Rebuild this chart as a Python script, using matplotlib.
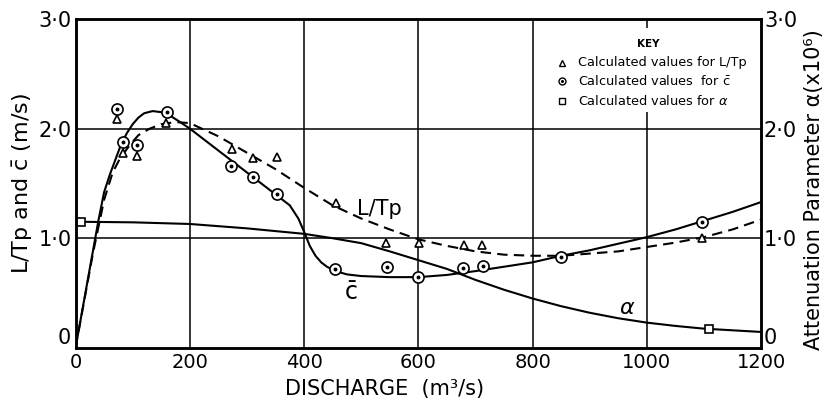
import matplotlib
matplotlib.use("Agg")
import matplotlib.pyplot as plt
from matplotlib.patches import Rectangle

plt.rcParams['font.family'] = ['DejaVu Sans']
plt.rcParams['mathtext.fontset'] = 'dejavusans'

# ---- data ----
# observed points
ltp_x = [73, 83, 108, 158, 274, 311, 353, 456, 543, 601, 680, 711, 1096]
ltp_y = [2.09, 1.78, 1.75, 2.05, 1.81, 1.73, 1.74, 1.32, 0.96, 0.96, 0.94, 0.94, 1.00]

cbar_x = [73, 83, 108, 160, 272, 311, 353, 454, 545, 599, 678, 713, 849, 1096]
cbar_y = [2.18, 1.88, 1.85, 2.15, 1.66, 1.56, 1.40, 0.72, 0.74, 0.65, 0.73, 0.75, 0.83, 1.15]

alpha_x = [10, 1108]
alpha_y = [1.15, 0.17]

# fitted curves
cbar_curve_x = [0, 20, 40, 50, 60, 70, 80, 90, 100, 110, 120, 135, 150, 165, 180, 200, 225,
                250, 275, 300, 325, 350, 375, 390, 400, 410, 420, 430, 440, 455, 475, 500,
                550, 600, 650, 700, 750, 800, 850, 900, 950, 1000, 1050, 1100, 1150, 1200]
cbar_curve_y = [0.0, 0.58, 1.16, 1.42, 1.58, 1.72, 1.86, 1.96, 2.04, 2.10, 2.14, 2.16, 2.15,
                2.12, 2.07, 2.00, 1.90, 1.80, 1.70, 1.60, 1.50, 1.40, 1.30, 1.18, 1.06, 0.93,
                0.84, 0.78, 0.74, 0.70, 0.67, 0.655, 0.645, 0.645, 0.665, 0.70, 0.74, 0.78,
                0.84, 0.89, 0.95, 1.01, 1.08, 1.16, 1.24, 1.33]

ltp_curve_x = [0, 30, 50, 65, 78, 95, 110, 130, 150, 175, 200, 250, 300, 350, 400, 450, 500,
               550, 600, 650, 700, 750, 800, 850, 900, 950, 1000, 1050, 1100, 1150, 1200]
ltp_curve_y = [0.0, 0.85, 1.35, 1.60, 1.73, 1.85, 1.94, 2.00, 2.04, 2.06, 2.05, 1.93, 1.78,
               1.63, 1.46, 1.30, 1.18, 1.08, 0.99, 0.93, 0.88, 0.85, 0.84, 0.84, 0.86, 0.88,
               0.92, 0.96, 1.01, 1.08, 1.17]

alpha_curve_x = [10, 100, 200, 300, 400, 450, 500, 550, 600, 650, 700, 750, 800, 850, 900,
                 950, 1000, 1050, 1100, 1150, 1200]
alpha_curve_y = [1.15, 1.145, 1.13, 1.09, 1.04, 1.00, 0.955, 0.88, 0.80, 0.72, 0.62, 0.53,
                 0.45, 0.38, 0.32, 0.27, 0.23, 0.20, 0.175, 0.16, 0.145]

x_ticks = [0, 200, 400, 600, 800, 1000, 1200]
y_ticks = [0, 1, 2, 3]
y_ticklabels = ['0', '1·0', '2·0', '3·0']

legend_labels = ['Calculated values for L/Tp',
                 r'Calculated values  for $\bar{\mathrm{c}}$',
                 'Calculated values for $\\alpha$']

# ---- figure ----
fig = plt.figure(figsize=(8.31, 4.04), dpi=100)
ax = fig.add_axes([0.0909, 0.139, 0.825, 0.814])
ax2 = ax.twinx()

ax.set_xlim(0, 1200)
ax.set_ylim(0, 3)
ax2.set_ylim(0, 3)

# grid
for gx in x_ticks[1:-1]:
    ax.axvline(gx, color='black', lw=1.1, zorder=1)
for gy in [1, 2]:
    ax.axhline(gy, color='black', lw=1.1, zorder=1)

# white legend area covering grid
ax.add_patch(Rectangle((840, 2.15), 355, 0.77, facecolor='white', edgecolor='none', zorder=2))

lw = 1.5
ax.plot(cbar_curve_x, cbar_curve_y, color='black', lw=lw, zorder=3)
ax.plot(ltp_curve_x, ltp_curve_y, color='black', lw=lw, ls=(0, (5, 3)), zorder=3)
ax.plot(alpha_curve_x, alpha_curve_y, color='black', lw=lw, zorder=3)

ax.plot(ltp_x, ltp_y, ls='none', marker='^', ms=6, mfc='white', mec='black', mew=1.2, zorder=4)
ax.plot(cbar_x, cbar_y, ls='none', marker='o', ms=8, mfc='white', mec='black', mew=1.2, zorder=4)
ax.plot(cbar_x, cbar_y, ls='none', marker='o', ms=1.8, mfc='black', mec='black', zorder=5)
ax.plot(alpha_x, alpha_y, ls='none', marker='s', ms=6, mfc='white', mec='black', mew=1.2, zorder=4)

# curve labels
ax.text(492, 1.27, 'L/Tp', fontsize=15, ha='left', va='center', zorder=6)
ax.text(482, 0.50, r'$\bar{\mathrm{c}}$', fontsize=17, ha='center', va='center', zorder=6)
ax.text(965, 0.36, r'$\alpha$', fontsize=16, ha='center', va='center', zorder=6)

# key
ax.text(1002, 2.77, 'KEY', fontsize=7.5, fontweight='bold', ha='center', va='center', zorder=6)
key_y = [2.60, 2.43, 2.25]
key_markers = ['^', 'o', 's']
for ky, km, kl in zip(key_y, key_markers, legend_labels):
    ax.plot([851], [ky], ls='none', marker=km, ms=5, mfc='white', mec='black', mew=1.0, zorder=6)
    if km == 'o':
        ax.plot([851], [ky], ls='none', marker='o', ms=1.2, mfc='black', mec='black', zorder=7)
    ax.text(880, ky, kl, fontsize=9.3, ha='left', va='center', zorder=6)

# axes styling
for a in (ax, ax2):
    for s in a.spines.values():
        s.set_linewidth(1.8)
ax.set_xticks(x_ticks)
ax.set_xticklabels([str(t) for t in x_ticks])
ax.set_yticks(y_ticks)
ax.set_yticklabels(y_ticklabels)
ax2.set_yticks(y_ticks)
ax2.set_yticklabels(y_ticklabels)
ax.tick_params(axis='x', length=0, labelsize=14, pad=4)
ax.tick_params(axis='y', length=0, labelsize=15, pad=3)
ax2.tick_params(axis='y', length=0, labelsize=15, pad=2)

# the "0" labels sit just above the bottom axis line
ax.get_yticklabels()[0].set_va('bottom')
ax2.get_yticklabels()[0].set_va('bottom')

ax.set_xlabel('DISCHARGE  (m³/s)', fontsize=15, labelpad=0)
ax.xaxis.set_label_coords(0.451, -0.095)
ax.set_ylabel(r'L/Tp and $\bar{\mathrm{c}}$ (m/s)', fontsize=16, labelpad=2)
ax2.set_ylabel('Attenuation Parameter α(x10⁶)', fontsize=15, labelpad=4)
ax2.yaxis.set_label_coords(1.062, 0.48)

fig.savefig('out.png', dpi=100)
